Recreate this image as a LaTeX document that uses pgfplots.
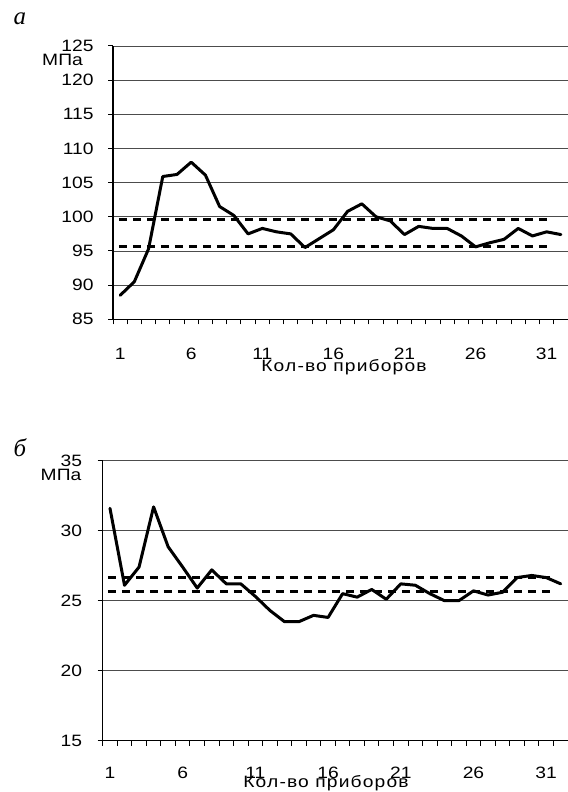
\documentclass[border=0pt]{standalone}
\usepackage{fontspec}
\setmainfont{Liberation Sans}[FakeStretch=1.17]
\newfontfamily\lblfont{Liberation Sans}[FakeStretch=1.17, LetterSpace=7]
\newfontfamily\tnr{Liberation Serif}
\usepackage{pgfplots}
\usepackage{pgfplotstable}
\pgfplotsset{compat=1.18}

\pgfplotstableread{
x y
1 88.5
2 90.5
3 95.3
4 105.9
5 106.2
6 108.0
7 106.1
8 101.5
9 100.2
10 97.5
11 98.3
12 97.8
13 97.5
14 95.5
15 96.8
16 98.1
17 100.8
18 101.9
19 100.0
20 99.4
21 97.4
22 98.6
23 98.3
24 98.3
25 97.2
26 95.6
27 96.2
28 96.7
29 98.3
30 97.2
31 97.8
32 97.4
}\dataA

\pgfplotstableread{
x y
1 31.6
2 26.1
3 27.4
4 31.7
5 28.85
6 27.4
7 25.9
8 27.2
9 26.2
10 26.2
11 25.3
12 24.3
13 23.5
14 23.5
15 23.95
16 23.8
17 25.5
18 25.25
19 25.8
20 25.1
21 26.2
22 26.1
23 25.5
24 25.0
25 25.0
26 25.7
27 25.4
28 25.6
29 26.65
30 26.8
31 26.65
32 26.2
}\dataB

\pgfplotsset{
  common/.style={
    scale only axis, anchor=south west,
    axis x line*=bottom, axis y line*=left,
    axis line style={-, black, line width=1.2bp},
    tick align=outside,
    xmin=0.5, xmax=32.5,
    xtick={1,6,...,31},
    minor xtick={0.5,1.5,...,32.5},
    every major x tick/.style={draw=none},
    every minor x tick/.style={black, line width=1bp},
    minor tick length=5bp,
    major tick length=5bp,
    every major y tick/.style={black, line width=1bp},
    ymajorgrids,
    grid style={draw=gray!60!black, line width=0.9bp},
    /pgf/number format/assume math mode=true,
    tick label style={font=\fontsize{16.5}{16.5}\selectfont},
    clip=false,
  },
  dataline/.style={black, line width=3bp, line join=round, line cap=round},
  dashline/.style={black, line width=3.2bp, dash pattern=on 8bp off 6bp},
}

\begin{document}
\begin{tikzpicture}
\path[use as bounding box] (0,0) rectangle (568bp,792bp);

% top chart
\begin{axis}[common,
  at={(113bp,472.7bp)}, width=455bp, height=273.3bp,
  ymin=85, ymax=125, ytick={85,90,...,125},
  yticklabel style={anchor=east, inner sep=0pt, xshift=-14.3bp},
  xticklabel style={anchor=north, inner sep=0pt, yshift=-23.7bp},
]
\addplot[dashline] coordinates {(0.92,99.55) (31.4,99.55)};
\addplot[dashline] coordinates {(0.92,95.6) (31.4,95.6)};
\addplot[dataline] table[x=x,y=y] {\dataA};
\end{axis}

% bottom chart
\begin{axis}[common,
  at={(102.7bp,51.4bp)}, width=465.3bp, height=279.9bp,
  ymin=15, ymax=35, ytick={15,20,...,35},
  yticklabel style={anchor=east, inner sep=0pt, xshift=-15.4bp},
  xticklabel style={anchor=north, inner sep=0pt, yshift=-21.1bp},
]
\addplot[dashline] coordinates {(0.86,26.65) (31.56,26.65)};
\addplot[dashline] coordinates {(0.86,25.68) (31.56,25.68)};
\addplot[dataline] table[x=x,y=y] {\dataB};
\end{axis}

\node[anchor=center, inner sep=0pt, font=\fontsize{16.5}{16.5}\selectfont] at (62.5bp,732bp) {МПа};
\node[anchor=center, inner sep=0pt, font=\fontsize{16.5}{16.5}\selectfont] at (61bp,317.3bp) {МПа};
\node[anchor=base, inner sep=0pt, font=\lblfont\fontsize{16.5}{16.5}\selectfont] at (344bp,420.3bp) {Кол-во приборов};
\node[anchor=base, inner sep=0pt, font=\lblfont\fontsize{16.5}{16.5}\selectfont] at (326bp,4.7bp) {Кол-во приборов};
\node[anchor=base west, inner sep=0pt, font=\tnr\itshape\fontsize{25}{25}\selectfont] at (13.5bp,767bp) {а};
\node[anchor=base west, inner sep=0pt, font=\tnr\itshape\fontsize{25}{25}\selectfont] at (13.5bp,335bp) {б};
\end{tikzpicture}
\end{document}
